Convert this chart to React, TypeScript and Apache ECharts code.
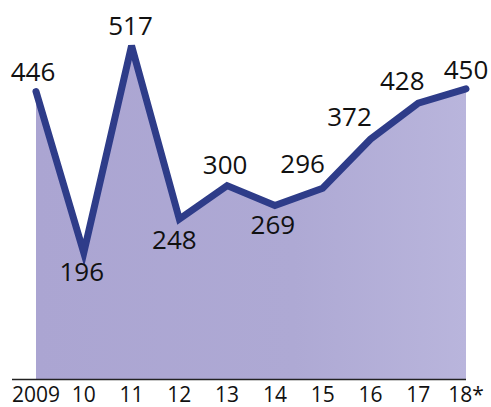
import React, { useEffect, useRef } from "react";
import * as echarts from "echarts";

const categories = ["2009", "10", "11", "12", "13", "14", "15", "16", "17", "18*"];
const values = [446, 196, 517, 248, 300, 269, 296, 372, 428, 450];
// label centre offsets relative to each point (layout only)
const labelOffsets: [number, number][] = [
  [-3, -20], [-2, 18], [-1, -21], [-5, 20], [-2, -22],
  [-2, 18], [-20, -25], [-21, -23], [-16, -23], [0, -20],
];

export default function App() {
  const ref = useRef<HTMLDivElement>(null);
  useEffect(() => {
    if (!ref.current) return;
    const chart = echarts.init(ref.current, undefined, { renderer: "svg" });
    chart.setOption({
      animation: false,
      backgroundColor: "#ffffff",
      grid: { left: 36, right: 25, top: 18, bottom: 28 },
      xAxis: {
        type: "category",
        data: categories,
        boundaryGap: false,
        axisLine: { show: false },
        axisTick: { show: false },
        axisLabel: {
          color: "#111",
          fontFamily: "Open Sans",
          fontSize: 21,
          lineHeight: 18,
          margin: 6,
          interval: 0,
        },
      },
      yAxis: {
        type: "value",
        min: 0,
        max: 560,
        show: false,
        splitLine: { show: false },
      },
      graphic: [
        {
          type: "line",
          shape: { x1: 12, y1: 379.5, x2: 466, y2: 379.5 },
          style: { stroke: "#222", lineWidth: 1.4 },
          z: 10,
        },
      ],
      series: [
        {
          type: "line",
          data: values.map((v, i) => ({
            value: v,
            label: { offset: labelOffsets[i] },
          })),
          symbol: "circle",
          symbolSize: 1,
          showSymbol: true,
          itemStyle: { color: "rgba(0,0,0,0)" },
          lineStyle: { color: "#2e3c89", width: 7, join: "miter", cap: "round" },
          areaStyle: {
            color: new echarts.graphic.LinearGradient(0, 0, 1, 0, [
              { offset: 0, color: "#aba5d2" },
              { offset: 0.6, color: "#aea9d4" },
              { offset: 1, color: "#b9b5dc" },
            ]),
            opacity: 1,
          },
          label: {
            show: true,
            position: "inside",
            color: "#111",
            fontFamily: "Open Sans",
            fontSize: 26,
          },
        },
      ],
    });
    return () => chart.dispose();
  }, []);
  return <div ref={ref} style={{ width: 491, height: 407, position: "absolute", left: 0, top: 0 }} />;
}
